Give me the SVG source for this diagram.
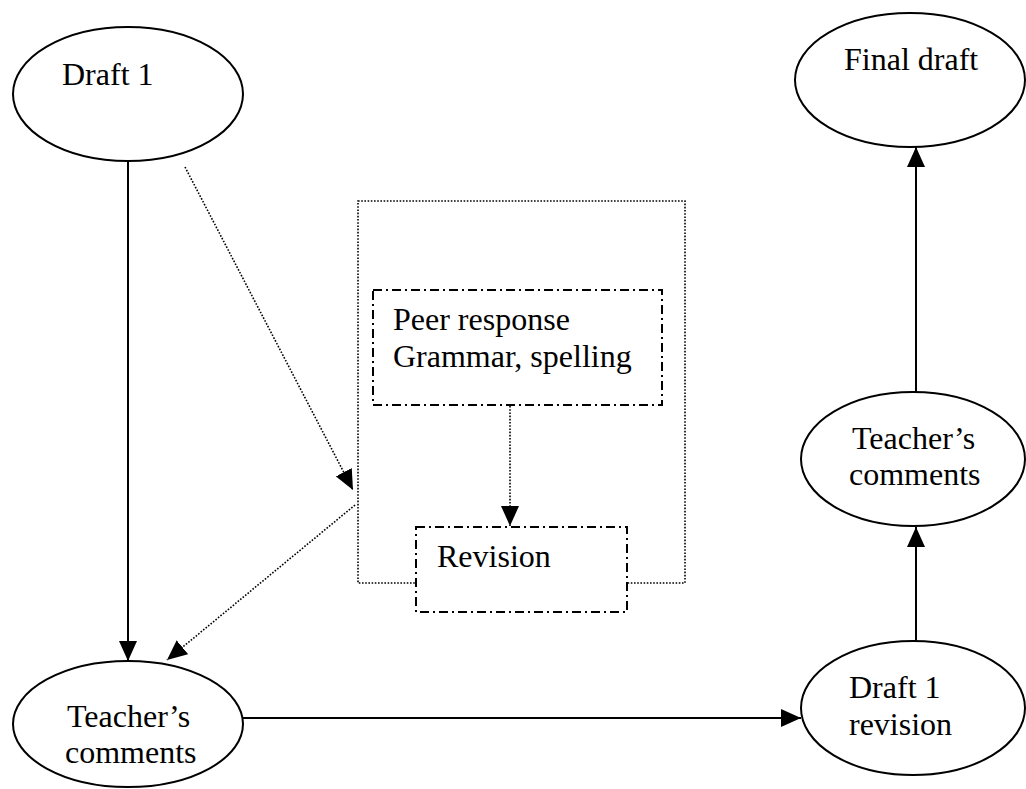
<svg xmlns="http://www.w3.org/2000/svg" width="1026" height="789" viewBox="0 0 1026 789">
  <defs>
    <marker id="arrow" markerWidth="20" markerHeight="18" refX="20" refY="9" orient="auto" markerUnits="userSpaceOnUse">
      <path d="M0,0 L20,9 L0,18 Z" fill="#000"/>
    </marker>
    <style>
      .node { fill: #fff; stroke: #000; stroke-width: 2; }
      .label { font-family: "Liberation Serif", "Times New Roman", serif; font-size: 32px; fill: #000; }
      .solid { stroke: #000; stroke-width: 2; fill: none; }
      .dotted { stroke: #000; stroke-width: 1.6; stroke-dasharray: 1.6 1.6; fill: none; }
      .dashdot { fill: #fff; stroke: #000; stroke-width: 2; stroke-dasharray: 9 4 2 4; }
    </style>
  </defs>
  <rect width="1026" height="789" fill="#fff"/>

  <!-- enclosing peer-review frame -->
  <g id="peer-frame">
    <rect x="358" y="201" width="327" height="382" class="dotted"/>
  </g>

  <g id="connectors">
    <line x1="128" y1="162" x2="128" y2="661" class="solid" marker-end="url(#arrow)"/>
    <line x1="243" y1="718" x2="801" y2="718" class="solid" marker-end="url(#arrow)"/>
    <line x1="916" y1="642" x2="916" y2="527" class="solid" marker-end="url(#arrow)"/>
    <line x1="916" y1="392" x2="916" y2="147" class="solid" marker-end="url(#arrow)"/>
    <line x1="185" y1="167" x2="353" y2="490" class="dotted" marker-end="url(#arrow)"/>
    <line x1="355" y1="505" x2="167" y2="660" class="dotted" marker-end="url(#arrow)"/>
    <line x1="510" y1="406" x2="510" y2="526" class="dotted" marker-end="url(#arrow)"/>
  </g>

  <g id="draft1">
    <ellipse cx="128" cy="94" rx="115" ry="67" class="node"/>
    <text x="62" y="85" class="label">Draft 1</text>
  </g>

  <g id="final-draft">
    <ellipse cx="910" cy="80" rx="115" ry="67" class="node"/>
    <text x="844" y="70" class="label">Final draft</text>
  </g>

  <g id="peer-response">
    <rect x="373" y="290" width="289" height="115" class="dashdot"/>
    <text x="393" y="330" class="label">Peer response</text>
    <text x="393" y="367" class="label">Grammar, spelling</text>
  </g>

  <g id="revision">
    <rect x="416" y="527" width="211" height="85" class="dashdot"/>
    <text x="437" y="567" class="label">Revision</text>
  </g>

  <g id="teacher-comments-1">
    <ellipse cx="128" cy="724" rx="115" ry="63" class="node"/>
    <text x="67" y="727" class="label">Teacher’s</text>
    <text x="65" y="763" class="label">comments</text>
  </g>

  <g id="draft1-revision">
    <ellipse cx="913" cy="708" rx="112" ry="67" class="node"/>
    <text x="849" y="698" class="label">Draft 1</text>
    <text x="849" y="735" class="label">revision</text>
  </g>

  <g id="teacher-comments-2">
    <ellipse cx="913" cy="459" rx="112" ry="67" class="node"/>
    <text x="852" y="449" class="label">Teacher’s</text>
    <text x="849" y="485" class="label">comments</text>
  </g>
</svg>
